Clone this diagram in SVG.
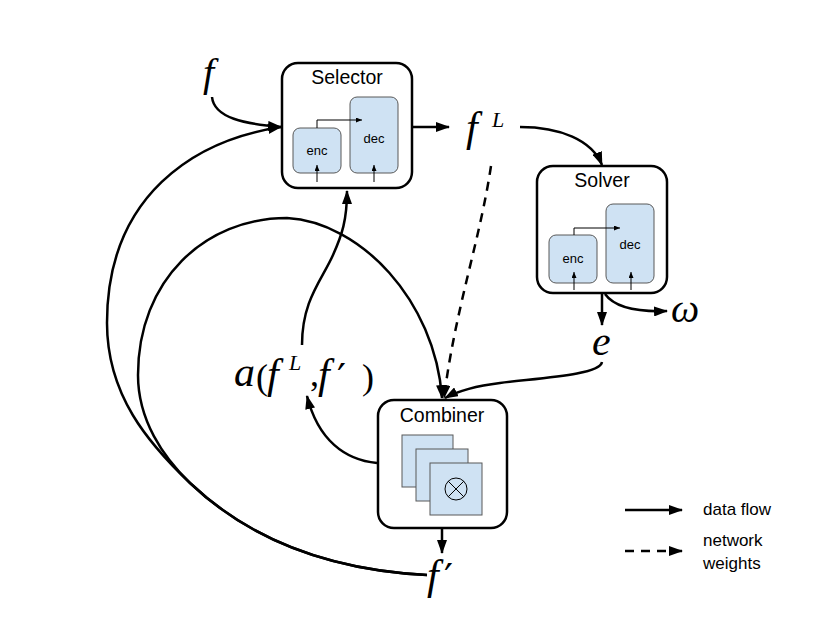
<svg xmlns="http://www.w3.org/2000/svg" width="830" height="623" viewBox="0 0 830 623">
<defs>
<marker id="ah" viewBox="0 0 14 10" refX="13" refY="5" markerWidth="14" markerHeight="10" markerUnits="userSpaceOnUse" orient="auto"><path d="M0,0 L14,5 L0,10 z" fill="#000"/></marker>
<marker id="sh" viewBox="0 0 6 5" refX="6" refY="2.5" markerWidth="6" markerHeight="5" markerUnits="userSpaceOnUse" orient="auto"><path d="M0,0 L6,2.5 L0,5 z" fill="#000"/></marker>
</defs>
<style>
.box{fill:#fff;stroke:#000;stroke-width:2.5}
.inner{fill:#cfe2f3;stroke:#595959;stroke-width:1}
.title{font-family:"Liberation Sans",Arial,sans-serif;font-size:19.5px;fill:#000;text-anchor:middle}
.small{font-family:"Liberation Sans",Arial,sans-serif;font-size:13px;fill:#000;text-anchor:middle}
.leg{font-family:"Liberation Sans",Arial,sans-serif;font-size:17px;fill:#000}
.math{font-family:"Liberation Serif","Times New Roman",serif;font-style:italic;fill:#000}
.up{font-style:normal}
.pr{font-family:"DejaVu Serif",serif;font-style:normal}
.c{fill:none;stroke:#000;stroke-width:2.5}
.thin{fill:none;stroke:#000;stroke-width:1}
.dash{stroke-dasharray:9 7}
</style>
<rect width="830" height="623" fill="#fff"/>

<g id="connectors">
<path class="c" d="M212,97 C214,118 245,124 281,127" marker-end="url(#ah)"/>
<path class="c" d="M427,575 C330,570 250,540 190,483 C148,443 107,395 107,323 C107,195 195,140 281,127" marker-end="url(#ah)"/>
<path class="c" d="M427,575 C330,570 250,540 190,483 C163,457 138,420 138,375 C138,280 205,218 287,218 C360,222 435,300 442,398" marker-end="url(#ah)"/>
<path class="c" d="M412,127 L449,127" marker-end="url(#ah)"/>
<path class="c" d="M520,127 C560,127 592,140 602,165" marker-end="url(#ah)"/>
<path class="c dash" d="M491,166 C480,240 455,310 444,398" marker-end="url(#ah)"/>
<path class="c" d="M602,293 L602,325" marker-end="url(#ah)"/>
<path class="c" d="M605,294 C615,308 640,312 667,311" marker-end="url(#ah)"/>
<path class="c" d="M602,362 C600,375 540,378 500,383 C475,386 458,391 445,398" marker-end="url(#ah)"/>
<path class="c" d="M302,345 C302,300 322,280 333,255 C342,235 347,220 347,191" marker-end="url(#ah)"/>
<path class="c" d="M377,463 C345,460 318,440 307,396" marker-end="url(#ah)"/>
<path class="c" d="M442,528 L442,553" marker-end="url(#ah)"/>
</g>

<g id="selector">
<rect class="box" x="282" y="63" width="130" height="125" rx="16"/>
<text class="title" x="347" y="84">Selector</text>
<rect class="inner" x="293" y="128" width="48" height="45" rx="7"/>
<rect class="inner" x="350" y="97" width="48" height="76" rx="7"/>
<text class="small" x="317" y="155">enc</text>
<text class="small" x="374" y="143">dec</text>
<path class="thin" d="M317,128 L317,120 L362,120" marker-end="url(#sh)"/>
<path class="thin" d="M317,182 L317,165" marker-end="url(#sh)"/>
<path class="thin" d="M374,182 L374,165" marker-end="url(#sh)"/>
</g>

<g id="solver">
<rect class="box" x="537" y="166" width="130" height="127" rx="16"/>
<text class="title" x="602" y="187">Solver</text>
<rect class="inner" x="549" y="235" width="48" height="48" rx="7"/>
<rect class="inner" x="606" y="204" width="48" height="79" rx="7"/>
<text class="small" x="573" y="263">enc</text>
<text class="small" x="630" y="249">dec</text>
<path class="thin" d="M574,235 L574,228 L620,228" marker-end="url(#sh)"/>
<path class="thin" d="M574,290 L574,272" marker-end="url(#sh)"/>
<path class="thin" d="M631,290 L631,272" marker-end="url(#sh)"/>
</g>

<g id="combiner">
<rect class="box" x="378" y="400" width="129" height="128" rx="16"/>
<text class="title" x="442" y="422">Combiner</text>
<rect class="inner" x="402" y="435" width="51" height="52"/>
<rect class="inner" x="416" y="449" width="52" height="52"/>
<rect class="inner" x="430" y="463" width="52" height="52"/>
<circle cx="456" cy="489" r="11" fill="none" stroke="#000" stroke-width="1"/>
<path class="thin" d="M448.2,481.2 L463.8,496.8 M463.8,481.2 L448.2,496.8"/>
</g>

<g id="label-f"><text class="math" x="203" y="86" font-size="40">f</text></g>
<g id="label-fL"><text class="math" x="466" y="141" font-size="42">f<tspan x="492" y="127" font-size="22">L</tspan></text></g>
<g id="label-omega"><text class="math" x="671" y="322" font-size="40">ω</text></g>
<g id="label-e"><text class="math" x="592" y="355" font-size="42">e</text></g>
<g id="label-fprime"><text class="math" x="427" y="589" font-size="42">f<tspan class="pr" x="444" y="592" font-size="40">′</tspan></text></g>
<g id="label-a"><text class="math" x="234" y="386" font-size="42">a<tspan class="up" x="256" y="389" font-size="36">(</tspan><tspan x="267" y="388">f</tspan><tspan x="289" y="370" font-size="22">L</tspan><tspan class="up" x="310" y="386" font-size="36">,</tspan><tspan x="318" y="388">f</tspan><tspan class="pr" x="337" y="392" font-size="40">′</tspan><tspan class="up" x="362" y="389" font-size="36">)</tspan></text></g>

<g id="legend">
<path class="c" d="M625,510 L682,510" marker-end="url(#ah)"/>
<text class="leg" x="703" y="515">data flow</text>
<path class="c dash" d="M625,551 L682,551" stroke-dasharray="8 7" marker-end="url(#ah)"/>
<text class="leg" x="703" y="546">network</text>
<text class="leg" x="703" y="569">weights</text>
</g>
</svg>
